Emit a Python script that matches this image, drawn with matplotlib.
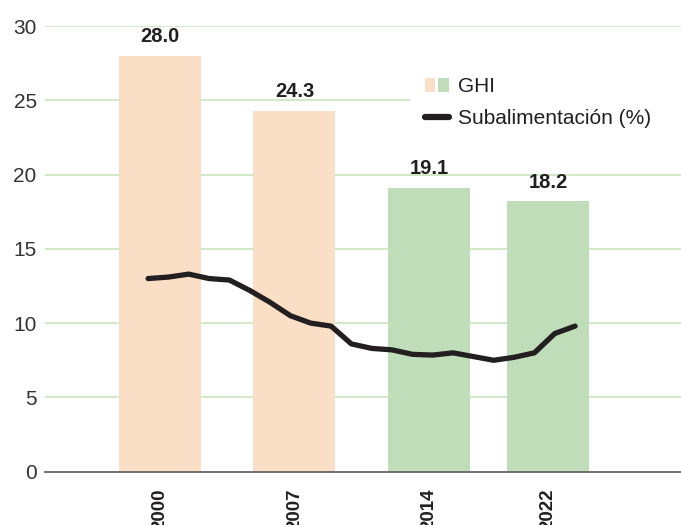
import matplotlib
matplotlib.use("Agg")
import matplotlib.pyplot as plt
from matplotlib.patches import Patch
from matplotlib.lines import Line2D
from matplotlib.legend_handler import HandlerTuple

# ---- data ----
ghi_years = ["2000", "2007", "2014", "2022"]
ghi_values = [28.0, 24.3, 19.1, 18.2]
ghi_labels = ["28.0", "24.3", "19.1", "18.2"]
ghi_colors = ["#FADFC6", "#FADFC6", "#BFDDB9", "#BFDDB9"]

under_years = list(range(2000, 2022))
under_values = [13.0, 13.1, 13.3, 13.0, 12.9, 12.2, 11.4, 10.5, 10.0, 9.8,
                8.6, 8.3, 8.2, 7.9, 7.85, 8.0, 7.75, 7.5, 7.7, 8.0, 9.3, 9.8]

yticks = [0, 5, 10, 15, 20, 25, 30]

# ---- style ----
FONT = ["Liberation Sans", "DejaVu Sans"]
plt.rcParams["font.family"] = FONT
TXT = "#231F20"
GRID = "#C5E3B6"

W, H = 681, 525
fig = plt.figure(figsize=(W / 100, H / 100), dpi=100)
left, right = 45 / W, 1.0
bottom, top = (H - 471.7) / H, (H - 26) / H
ax = fig.add_axes([left, bottom, right - left, top - bottom])

# categorical layout positions for bars
xpos = [0, 1.0, 2.0, 2.885]
ax.bar(xpos, ghi_values, width=0.61, color=ghi_colors, zorder=2)
for x, v, lab in zip(xpos, ghi_values, ghi_labels):
    ax.annotate(lab, (x, v), xytext=(0, 7), textcoords="offset points",
                ha="center", va="bottom", fontsize=14.5, fontweight="bold",
                color=TXT, zorder=5)

ax.set_xlim(-0.855, 3.874)
ax.set_ylim(0, 30)
ax.set_yticks(yticks)
ax.set_yticklabels([str(t) for t in yticks], fontsize=15, color="#333333")
ax.set_xticks(xpos)
ax.set_xticklabels(ghi_years, rotation=90, fontsize=13.5, fontweight="bold",
                   color=TXT, va="top")
ax.tick_params(axis="both", length=0)
ax.tick_params(axis="y", pad=6)
ax.tick_params(axis="x", pad=12)
ax.set_axisbelow(True)
ax.yaxis.grid(True, color=GRID, linewidth=1.1)
for s in ["top", "right", "left"]:
    ax.spines[s].set_visible(False)
ax.spines["bottom"].set_color("#666666")
ax.spines["bottom"].set_linewidth(1.3)
ax.spines["bottom"].set_zorder(3)
ax.get_ygridlines()[0].set_visible(False)

# line on a twin x axis (years)
ax2 = ax.twiny()
ax2.set_xlim(1994.93, 2026.21)
ax2.plot(under_years, under_values, color=TXT, linewidth=3.8,
         solid_joinstyle="round", solid_capstyle="round", zorder=4)
ax2.set_xticks([])
for s in ax2.spines.values():
    s.set_visible(False)

# legend
h_ghi = (Patch(facecolor="#FADFC6", edgecolor="none"),
         Patch(facecolor="#BFDDB9", edgecolor="none"))
h_line = Line2D([], [], color=TXT, linewidth=4.5, solid_capstyle="round")
leg = ax2.legend([h_ghi, h_line], ["GHI", "Subalimentación (%)"],
                 handler_map={tuple: HandlerTuple(ndivide=None, pad=0.15)},
                 loc="upper left",
                 bbox_to_anchor=(410 / W, (H - 68) / H, 271 / W, 0.01),
                 bbox_transform=fig.transFigure, mode="expand",
                 borderaxespad=0, borderpad=0.7, frameon=True,
                 fontsize=15, handlelength=1.15, handleheight=0.6,
                 handletextpad=0.45, labelspacing=0.6, labelcolor=TXT)
fr = leg.get_frame()
fr.set_facecolor("white")
fr.set_edgecolor("none")
fr.set_alpha(1)
fr.set_boxstyle("square", pad=0)
leg.set_zorder(10)

fig.savefig("out.png", dpi=100)
